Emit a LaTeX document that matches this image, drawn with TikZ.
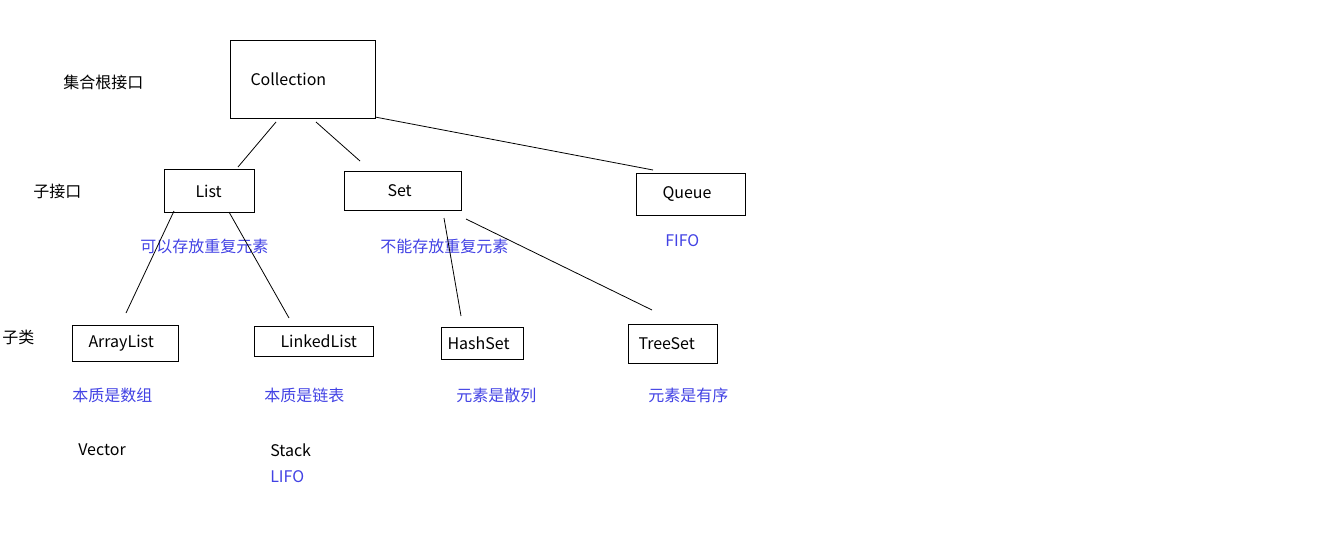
\documentclass[tikz,border=0pt]{standalone}
\usepackage{fontspec}
\setmainfont{Noto Sans CJK SC}
\usepackage{xcolor}
\usepackage{tikz}
\definecolor{noteblue}{RGB}{66,66,228}
\tikzset{
  box/.style={draw, line width=0.75pt, inner ysep=0pt, anchor=north west, align=left},
  txt/.style={anchor=west, inner sep=0pt},
  note/.style={anchor=west, inner sep=0pt, text=noteblue},
  link/.style={line width=0.6pt}
}

\begin{document}
\begin{tikzpicture}[x=0.75pt,y=0.75pt,yscale=-1,xscale=1,font=\fontsize{12pt}{14pt}\selectfont]
        \useasboundingbox (0,0) rectangle (1317,543);
        % boxes (inner xsep = left padding of the text)
        \node [box, inner xsep=15pt, text width=78.75pt, minimum height=58.5pt] (collection) at (230,40) {Collection};
        \node [box, inner xsep=23.25pt, text width=21pt, minimum height=32.25pt] (list) at (164,169) {List};
        \node [box, inner xsep=32.25pt, text width=23.25pt, minimum height=29.25pt] (set) at (344,171) {Set};
        \node [box, inner xsep=19.5pt, text width=42.75pt, minimum height=31.5pt] (queue) at (636,173) {Queue};
        \node [box, inner xsep=12pt, text width=55.5pt, minimum height=27pt] (arraylist) at (72,325) {ArrayList};
        \node [box, inner xsep=19.5pt, text width=50.25pt, minimum height=22.5pt] (linkedlist) at (254,326) {LinkedList};
        \node [box, inner xsep=4.5pt, text width=52.5pt, minimum height=24pt] (hashset) at (441,327) {HashSet};
        \node [box, inner xsep=7.5pt, text width=51.75pt, minimum height=29.25pt] (treeset) at (628,324) {TreeSet};

        % level labels
        \node [txt] (rootlbl) at (63,82) {集合根接口};
        \node [txt] (sublbl) at (33,191) {子接口};
        \node [txt] (classlbl) at (2,337) {子类};

        % notes
        \node [note] (listnote) at (140,246) {可以存放重复元素};
        \node [note] (setnote) at (380,246) {不能存放重复元素};
        \node [note] (queuenote) at (665,241) {FIFO};
        \node [note] (arraynote) at (72,395) {本质是数组};
        \node [note] (linkednote) at (264,395) {本质是链表};
        \node [note] (hashnote) at (456,395) {元素是散列};
        \node [note] (treenote) at (648,395) {元素是有序};
        \node [txt] (vector) at (78,450) {Vector};
        \node [txt] (stack) at (270,450) {Stack};
        \node [note] (stacknote) at (270,477) {LIFO};

        % line ends
        \coordinate (c1) at (276,122);
        \coordinate (l1) at (238,167);
        \coordinate (c2) at (316,122);
        \coordinate (s1) at (360,161);
        \coordinate (c3) at (375,117);
        \coordinate (q1) at (653,170);
        \coordinate (l2) at (174,211);
        \coordinate (a1) at (126,313);
        \coordinate (l3) at (229,212);
        \coordinate (k1) at (289,318);
        \coordinate (s2) at (444,218);
        \coordinate (h1) at (461,316);
        \coordinate (s3) at (466,219);
        \coordinate (t1) at (652,310);

        \draw [link] (c1) -- (l1) ;
        \draw [link] (c2) -- (s1) ;
        \draw [link] (c3) -- (q1) ;
        \draw [link] (l2) -- (a1) ;
        \draw [link] (l3) -- (k1) ;
        \draw [link] (s2) -- (h1) ;
        \draw [link] (s3) -- (t1) ;
\end{tikzpicture}
\end{document}
